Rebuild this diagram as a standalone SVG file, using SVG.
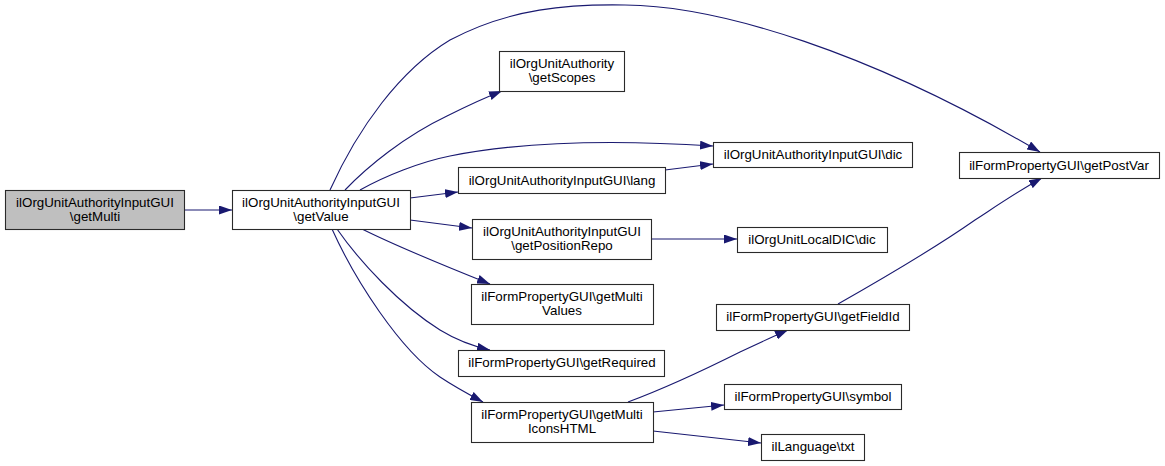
<svg xmlns="http://www.w3.org/2000/svg" width="1165" height="466" viewBox="0 0 1165 466">
<style>
.n rect{fill:#fff;stroke:#2a2a2a;stroke-width:1.1}
.n.hl rect{fill:#bfbfbf}
.n text{font-family:"Liberation Sans",Arial,sans-serif;font-size:13.33px;fill:#000;text-anchor:middle}
.e path{fill:none;stroke:#191970;stroke-width:1.1;marker-end:url(#ah)}
</style>
<defs>
<marker id="ah" viewBox="0 0 13 9" refX="13" refY="4.5" markerWidth="13" markerHeight="9" markerUnits="userSpaceOnUse" orient="auto">
<path d="M0,0 L13,4.5 L0,9 Z" fill="#191970"/>
</marker>
</defs>
<rect width="1165" height="466" fill="#fff"/>
<g id="edges" class="e">
<path d="M184,210 L232,210"/>
<path d="M330,190 C358,128 400,70 450,40 C510,8 570,4 625,5 C720,6 870,52 1040,152"/>
<path d="M345,190 C368,166 405,136 447,116 C465,107 484,98 502,91"/>
<path d="M360,190 C385,176 420,162 450,156 C530,140 620,140 713,146"/>
<path d="M410,198 L458,192"/>
<path d="M665,170 L713,164"/>
<path d="M410,220 L472,228"/>
<path d="M651,239 L737,239"/>
<path d="M362,229 C392,244 435,262 490,284"/>
<path d="M337,229 C360,262 400,305 440,330 C458,341 472,346 490,350"/>
<path d="M332,229 C355,280 400,350 440,377 C455,387 468,394 483,402"/>
<path d="M628,402 C655,392 700,372 740,352 C757,344 772,337 788,330"/>
<path d="M838,304 C875,283 935,248 975,220 C998,205 1020,190 1042,178"/>
<path d="M653,412 L724,405"/>
<path d="M653,431 L761,443"/>
</g>
<g id="getMulti" class="n hl"><rect x="5.5" y="190.5" width="179" height="39"/><text x="95" y="207">ilOrgUnitAuthorityInputGUI</text><text x="95" y="221">\getMulti</text></g>
<g id="getValue" class="n"><rect x="232.5" y="190.5" width="178" height="39"/><text x="321" y="207">ilOrgUnitAuthorityInputGUI</text><text x="321" y="221">\getValue</text></g>
<g id="getScopes" class="n"><rect x="499.5" y="51.5" width="125" height="40"/><text x="562" y="68">ilOrgUnitAuthority</text><text x="562" y="82">\getScopes</text></g>
<g id="dic" class="n"><rect x="713.5" y="142.5" width="199" height="25"/><text x="813" y="159">ilOrgUnitAuthorityInputGUI\dic</text></g>
<g id="lang" class="n"><rect x="458.5" y="167.5" width="207" height="26"/><text x="562" y="185">ilOrgUnitAuthorityInputGUI\lang</text></g>
<g id="getPositionRepo" class="n"><rect x="472.5" y="219.5" width="179" height="40"/><text x="562" y="236">ilOrgUnitAuthorityInputGUI</text><text x="562" y="250">\getPositionRepo</text></g>
<g id="localDic" class="n"><rect x="737.5" y="227.5" width="150" height="25"/><text x="812" y="244">ilOrgUnitLocalDIC\dic</text></g>
<g id="getMultiValues" class="n"><rect x="471.5" y="284.5" width="182" height="40"/><text x="562" y="301">ilFormPropertyGUI\getMulti</text><text x="562" y="315">Values</text></g>
<g id="getRequired" class="n"><rect x="458.5" y="350.5" width="206" height="26"/><text x="562" y="367">ilFormPropertyGUI\getRequired</text></g>
<g id="getMultiIconsHTML" class="n"><rect x="471.5" y="402.5" width="182" height="40"/><text x="562" y="419">ilFormPropertyGUI\getMulti</text><text x="562" y="433">IconsHTML</text></g>
<g id="getFieldId" class="n"><rect x="716.5" y="304.5" width="193" height="26"/><text x="813" y="321">ilFormPropertyGUI\getFieldId</text></g>
<g id="symbol" class="n"><rect x="724.5" y="384.5" width="177" height="25"/><text x="813" y="401">ilFormPropertyGUI\symbol</text></g>
<g id="txt" class="n"><rect x="761.5" y="434.5" width="103" height="26"/><text x="813" y="451">ilLanguage\txt</text></g>
<g id="getPostVar" class="n"><rect x="959.5" y="152.5" width="200" height="26"/><text x="1059" y="170">ilFormPropertyGUI\getPostVar</text></g>
</svg>
